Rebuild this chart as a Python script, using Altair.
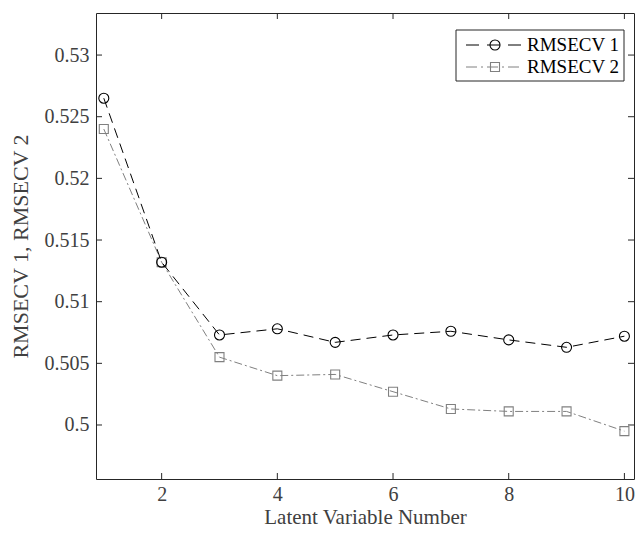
import altair as alt
import pandas as pd

# ---- data ----
lv = [1, 2, 3, 4, 5, 6, 7, 8, 9, 10]
rmsecv1 = [0.5265, 0.5132, 0.5073, 0.5078, 0.5067, 0.5073, 0.5076, 0.5069, 0.5063, 0.5072]
rmsecv2 = [0.5240, 0.5132, 0.5055, 0.5040, 0.5041, 0.5027, 0.5013, 0.5011, 0.5011, 0.4995]
series_names = ["RMSECV 1", "RMSECV 2"]
x_ticks = [2, 4, 6, 8, 10]
y_ticks = [0.5, 0.505, 0.51, 0.515, 0.52, 0.525, 0.53]

X_DOMAIN = [0.865, 10.166]
Y_DOMAIN = [0.49562, 0.53341]
W, H = 538, 466

FONT = "Liberation Serif"
AX = "#262626"
TXT = "#404040"

df1 = pd.DataFrame({"lv": lv, "v": rmsecv1})
df2 = pd.DataFrame({"lv": lv, "v": rmsecv2})

xs = alt.Scale(domain=X_DOMAIN, nice=False, zero=False)
ys = alt.Scale(domain=Y_DOMAIN, nice=False, zero=False)

x_axis = alt.Axis(values=x_ticks, format="d", ticks=False, domain=False, grid=False,
                  labelFont=FONT, labelFontSize=20, labelColor=TXT, labelPadding=5,
                  title="Latent Variable Number", titleFont=FONT, titleFontSize=21,
                  titleFontWeight="normal", titleColor=TXT,
                  titleBaseline="alphabetic", titleY=44)
y_axis = alt.Axis(values=y_ticks, format="~g", ticks=False, domain=False, grid=False,
                  labelFont=FONT, labelFontSize=20, labelColor=TXT, labelPadding=7,
                  title="RMSECV 1, RMSECV 2", titleFont=FONT, titleFontSize=22,
                  titleFontWeight="normal", titleColor=TXT, titlePadding=12)

enc_x = alt.X("lv:Q", scale=xs, axis=x_axis)
enc_y = alt.Y("v:Q", scale=ys, axis=y_axis)

line1 = alt.Chart(df1).mark_line(color="black", strokeWidth=1, strokeDash=[10, 6]).encode(x=enc_x, y=enc_y)
pts1 = alt.Chart(df1).mark_point(shape="circle", size=100, filled=False, color="black",
                                 strokeWidth=1.1, opacity=1).encode(x=enc_x, y=enc_y)
line2 = alt.Chart(df2).mark_line(color="#808080", strokeWidth=1, strokeDash=[8, 3, 2, 3]).encode(x=enc_x, y=enc_y)
pts2 = alt.Chart(df2).mark_point(shape="square", size=81, filled=False, color="#808080",
                                 strokeWidth=1.1, opacity=1).encode(x=enc_x, y=enc_y)

# inward ticks on all four sides
xt = pd.DataFrame({"lv": x_ticks})
yt = pd.DataFrame({"v": y_ticks})
tx = alt.X("lv:Q", scale=xs)
ty = alt.Y("v:Q", scale=ys)
tick_b = alt.Chart(xt).mark_rule(color=AX, strokeWidth=1).encode(x=tx, y=alt.value(H), y2=alt.value(H - 6))
tick_t = alt.Chart(xt).mark_rule(color=AX, strokeWidth=1).encode(x=tx, y=alt.value(0), y2=alt.value(6))
tick_l = alt.Chart(yt).mark_rule(color=AX, strokeWidth=1).encode(y=ty, x=alt.value(0), x2=alt.value(6))
tick_r = alt.Chart(yt).mark_rule(color=AX, strokeWidth=1).encode(y=ty, x=alt.value(W), x2=alt.value(W - 6))

# legend box
leg_df = pd.DataFrame({"name": series_names})
leg_box = alt.Chart(leg_df.head(1)).mark_rect(fill="white", stroke=AX, strokeWidth=1).encode(
    x=alt.value(360), x2=alt.value(528), y=alt.value(17), y2=alt.value(68))
row_y = [32, 54]
leg_l1 = alt.Chart(leg_df.head(1)).mark_rule(color="black", strokeWidth=1, strokeDash=[13, 8]).encode(
    x=alt.value(370), x2=alt.value(425), y=alt.value(row_y[0]))
leg_p1 = alt.Chart(leg_df.head(1)).mark_point(shape="circle", size=100, filled=False, color="black",
                                               strokeWidth=1.1, opacity=1).encode(
    x=alt.value(399), y=alt.value(row_y[0]))
leg_t1 = alt.Chart(leg_df.head(1)).mark_text(align="left", baseline="middle", font=FONT, fontSize=19,
                                              color="black").encode(
    x=alt.value(431), y=alt.value(row_y[0]), text="name:N")
leg_l2 = alt.Chart(leg_df.tail(1)).mark_rule(color="#808080", strokeWidth=1, strokeDash=[11, 4, 2, 4]).encode(
    x=alt.value(370), x2=alt.value(425), y=alt.value(row_y[1]))
leg_p2 = alt.Chart(leg_df.tail(1)).mark_point(shape="square", size=81, filled=False, color="#808080",
                                               strokeWidth=1.1, opacity=1).encode(
    x=alt.value(399), y=alt.value(row_y[1]))
leg_t2 = alt.Chart(leg_df.tail(1)).mark_text(align="left", baseline="middle", font=FONT, fontSize=19,
                                              color="black").encode(
    x=alt.value(431), y=alt.value(row_y[1]), text="name:N")

chart = alt.layer(
    line2, pts2, line1, pts1,
    tick_b, tick_t, tick_l, tick_r,
    leg_box, leg_l1, leg_p1, leg_t1, leg_l2, leg_p2, leg_t2,
).properties(
    width=W, height=H,
    autosize=alt.AutoSizeParams(type="none"),
    padding={"left": 88, "top": 5, "right": 1, "bottom": 49},
    background="white",
).configure_view(stroke=AX, strokeWidth=1)

chart.save("out.html", embed_options={"renderer": "svg", "actions": False})
